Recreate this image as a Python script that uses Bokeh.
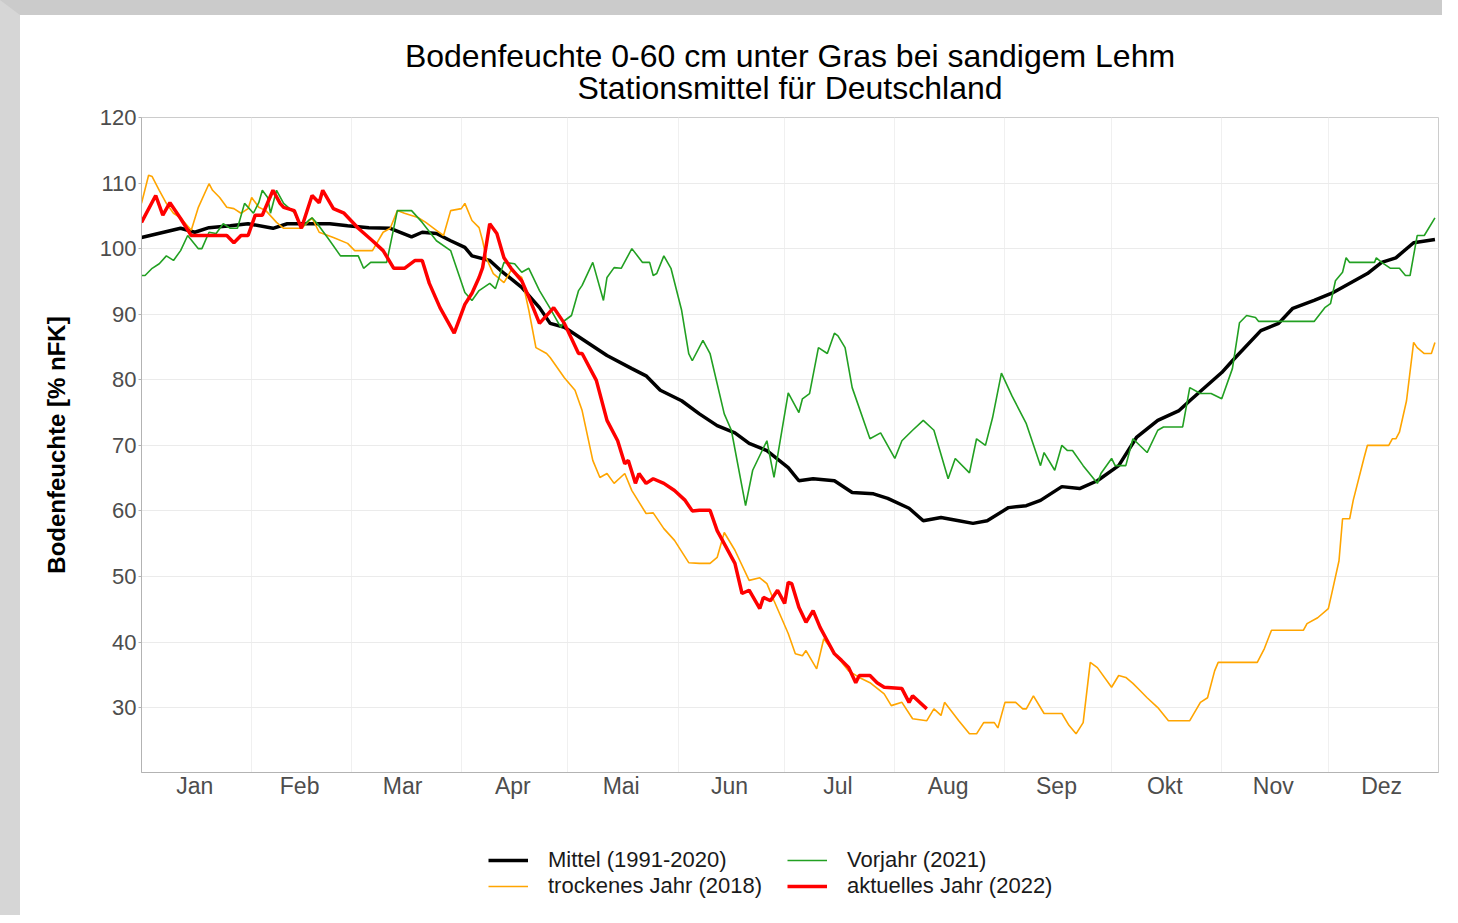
from bokeh.plotting import figure
from bokeh.models import Range1d, FixedTicker, Label, Legend, LegendItem
from bokeh.layouts import column
from bokeh.embed import file_html
from bokeh.resources import INLINE

title_line1 = "Bodenfeuchte 0-60 cm unter Gras bei sandigem Lehm"
title_line2 = "Stationsmittel für Deutschland"
y_label = "Bodenfeuchte [% nFK]"

months = ["Jan", "Feb", "Mar", "Apr", "Mai", "Jun", "Jul", "Aug", "Sep", "Okt", "Nov", "Dez"]
month_start = [1, 32, 60, 91, 121, 152, 182, 213, 244, 274, 305, 335]
month_mid = [16, 45.5, 74.5, 105.5, 136, 166.5, 197, 228, 258.5, 289, 319.5, 350]
y_ticks = [30, 40, 50, 60, 70, 80, 90, 100, 110, 120]

series_labels = ["Mittel (1991-2020)", "trockenes Jahr (2018)", "Vorjahr (2021)", "aktuelles Jahr (2022)"]

# Mittel (1991-2020)
mean_day = [1, 12, 16, 20, 26, 31, 38, 42, 48, 54, 59, 65, 71, 77, 80, 84, 88, 92, 94, 99,
            102, 108, 113, 116, 120, 127, 132, 139, 143, 147, 153, 158, 163, 168, 172, 177, 183, 186, 190, 196,
            201, 207, 211, 217, 221, 226, 231, 235, 239, 245, 250, 254, 260, 265, 270, 276, 281, 287, 293, 296,
            305, 308, 316, 321, 325, 331, 336, 346, 350, 354, 359, 365]
mean_val = [101.7, 103.1, 102.5, 103.2, 103.5, 103.8, 103.1, 103.8, 103.8, 103.8, 103.5, 103.2, 103.1, 101.8, 102.5,
            102.3, 101.2, 100.2, 98.9, 98.2, 96.7, 94.1, 91.0, 88.6, 88.0, 85.5, 83.7, 81.7, 80.6, 78.4,
            76.8, 74.8, 73.0, 71.9, 70.3, 69.2, 66.6, 64.6, 64.9, 64.6, 62.8, 62.6, 61.9, 60.4, 58.5,
            59.0, 58.5, 58.1, 58.5, 60.5, 60.8, 61.6, 63.7, 63.4, 64.6, 66.9, 71.2, 73.8, 75.3, 76.8,
            81.1, 82.9, 87.5, 88.6, 90.9, 92.1, 93.2, 96.2, 97.9, 98.6, 100.9, 101.4]

# trockenes Jahr (2018)
dry_day = [1, 3, 4, 6, 8, 10, 12, 15, 17, 20, 21, 23, 25, 27, 29, 31, 32, 34, 36, 39,
           41, 46, 49, 51, 55, 59, 61, 66, 69, 71, 73, 75, 79, 81, 84, 86, 88, 91, 92, 94,
           96, 97, 98, 100, 103, 105, 108, 110, 112, 115, 116, 120, 123, 125, 128, 130, 132, 134, 137, 139,
           143, 145, 148, 151, 155, 158, 161, 163, 165, 168, 172, 175, 177, 179, 183, 185, 187, 188, 191, 193,
           197, 200, 203, 206, 210, 212, 215, 218, 222, 224, 226, 227, 231, 234, 236, 238, 241, 242, 244, 247,
           249, 250, 252, 255, 260, 262, 264, 266, 268, 270, 274, 276, 278, 280, 282, 284, 287, 290, 296, 299,
           301, 303, 304, 315, 317, 319, 328, 329, 332, 335, 336, 338, 339, 341, 342, 345, 346, 352, 353, 354,
           355, 357, 359, 360, 362, 364, 365]
dry_val = [106.9, 111.2, 111.0, 108.9, 106.9, 105.4, 104.7, 102.8, 106.3, 109.9,
           108.9, 107.8, 106.3, 106.1, 105.4, 106.1, 107.8, 106.3, 105.8, 104.0,
           103.1, 103.1, 104.7, 102.5, 101.7, 100.8, 99.7, 99.7, 102.5, 103.1,
           105.8, 105.4, 104.7, 104.0, 102.8, 102.0, 105.8, 106.1, 106.9, 104.3,
           103.2, 101.2, 98.6, 96.2, 94.8, 96.7, 95.6, 90.6, 84.9, 84.0,
           83.4, 80.3, 78.4, 75.3, 67.7, 65.1, 65.7, 64.2, 65.7, 63.1,
           59.6, 59.7, 57.3, 55.5, 52.1, 52.0, 52.0, 52.9, 56.7, 54.0,
           49.4, 49.8, 48.9, 46.3, 41.3, 38.2, 37.9, 38.7, 35.9, 40.5,
           37.6, 35.6, 34.6, 33.8, 32.1, 30.3, 30.8, 28.3, 28.0, 29.8,
           28.8, 30.8, 28.0, 26.0, 26.0, 27.7, 27.7, 26.9, 30.8, 30.8,
           29.8, 29.8, 31.8, 29.1, 29.1, 27.3, 26.0, 27.7, 36.9, 36.1,
           33.1, 34.9, 34.6, 33.7, 32.6, 31.5, 30.0, 28.0, 28.0, 30.8,
           31.5, 35.6, 36.9, 36.9, 39.0, 41.8, 41.8, 42.8, 43.7, 45.1,
           47.5, 52.4, 58.8, 58.8, 61.6, 68.0, 70.0, 70.0, 71.0, 71.0,
           72.0, 76.8, 85.7, 84.9, 84.0, 84.0, 85.7]

# Vorjahr (2021)
prev_day = [1, 2, 4, 6, 8, 10, 12, 14, 17, 18, 20, 22, 24, 26, 28, 30, 31, 32.5, 34, 35,
            36.5, 37.3, 39, 41, 44, 46, 48, 49, 50.5, 54, 57, 62, 63.5, 65.5, 70, 73, 77, 80, 84, 88,
            92, 94, 96, 99, 100.6, 103, 106, 108, 110, 113, 116, 119, 120, 122, 124, 125, 128, 131, 132, 134,
            136, 139, 142, 144, 145, 146, 148, 150, 153, 155, 156, 159, 161, 165, 167, 171, 173, 177, 179, 183,
            186, 187, 189, 191.5, 194, 196, 197, 199, 201, 206, 209, 213, 215, 218, 221, 224, 228, 230, 234, 236,
            238.5, 240.5, 243, 246, 250, 254, 255, 258, 260, 261.6, 263, 266, 270, 271, 274, 275, 278, 280, 284, 287,
            288.6, 294, 296, 299, 302, 305, 308, 310, 312, 314.5, 315.4, 331, 334, 335.6, 337, 339, 340, 341, 348, 348.5,
            350, 352.5, 355, 356.7, 358, 360, 362, 365]
prev_val = [95.9, 95.9, 97.0, 97.7, 98.9, 98.2, 99.7, 102.0, 100.0, 100.0,
            102.5, 102.3, 103.8, 103.1, 103.1, 106.9, 106.3, 105.4, 107.0, 108.9,
            107.8, 105.4, 108.9, 106.9, 105.5, 103.2, 104.3, 104.7, 103.8, 101.2,
            98.9, 98.9, 97.0, 97.9, 97.9, 105.8, 105.8, 104.0, 101.2, 99.7,
            93.3, 92.1, 93.6, 94.7, 93.9, 97.9, 97.7, 96.4, 97.0, 93.6,
            90.9, 88.0, 89.0, 89.8, 93.6, 94.4, 97.9, 92.1, 95.6, 97.1,
            97.0, 100.0, 97.9, 97.9, 95.9, 96.2, 98.9, 97.0, 90.6, 84.0,
            82.9, 86.0, 84.0, 74.8, 72.3, 60.8, 66.2, 70.7, 65.1, 78.0,
            75.0, 77.1, 77.9, 84.9, 84.0, 87.1, 86.7, 84.9, 78.8, 71.0,
            71.9, 68.0, 70.7, 72.3, 73.8, 72.3, 64.9, 68.0, 65.8, 71.0,
            70.0, 74.2, 81.0, 77.5, 73.3, 66.9, 68.9, 66.2, 70.0, 69.2,
            69.2, 66.9, 64.2, 65.7, 68.0, 66.9, 66.9, 71.0, 68.9, 72.3,
            72.8, 72.8, 78.8, 77.9, 77.9, 77.1, 81.7, 88.7, 89.8, 89.5,
            88.9, 88.9, 91.0, 91.6, 95.1, 96.4, 98.6, 97.9, 97.9, 98.6,
            97.9, 97.0, 97.0, 95.9, 95.9, 102.0, 102.0, 104.7]

# aktuelles Jahr (2022)
cur_day = [1, 5, 7, 9, 12, 15, 20, 25, 27, 29, 31, 33, 35, 38, 40, 41, 44, 46, 49, 51,
           52, 55, 58, 62, 66, 69, 72, 75, 78, 80, 82, 85, 89, 92, 94, 96, 97, 99, 101, 103,
           105, 108, 110, 113, 117, 120, 124, 125, 129, 132, 135, 137, 138, 140, 141, 143, 145, 148, 151, 154,
           156, 158, 161, 163, 168, 170, 172, 175, 176, 178, 180, 182, 183, 184, 186, 188, 190, 192, 194, 196,
           198, 200, 202, 203, 206, 208, 210, 215, 217, 218, 222]
cur_val = [104.0, 108.1, 105.1, 107.0, 104.6, 102.0, 102.0, 102.0, 100.9, 102.0,
           102.0, 105.1, 105.1, 108.9, 106.9, 106.3, 105.8, 103.1, 108.1, 107.0,
           108.9, 106.1, 105.4, 103.1, 101.2, 99.7, 97.0, 97.0, 98.2, 98.2,
           94.7, 91.0, 87.1, 91.5, 93.2, 95.6, 97.1, 103.8, 102.3, 98.6,
           97.0, 95.1, 92.6, 88.6, 91.0, 88.6, 84.0, 84.0, 79.9, 73.8,
           70.7, 67.2, 67.7, 64.2, 65.7, 64.2, 64.9, 64.2, 63.1, 61.6,
           60.0, 60.1, 60.1, 57.0, 52.0, 47.4, 47.9, 45.1, 46.8, 46.3,
           47.9, 45.9, 49.1, 48.9, 45.3, 43.0, 44.8, 42.2, 40.2, 38.2,
           37.2, 36.1, 33.8, 34.9, 34.9, 33.8, 33.1, 32.9, 30.8, 31.8, 29.8]

FONT = "Liberation Sans"
COLORS = ["black", "#ffa500", "#22a022", "#ff0000"]
WIDTHS = [3.5, 1.6, 1.6, 3.5]
W = 1422


def strip(height):
    f = figure(width=W, height=height, x_range=Range1d(0, 1), y_range=Range1d(0, 1),
               output_backend="svg", toolbar_location=None, title=None,
               x_axis_location=None, y_axis_location=None,
               min_border_left=0, min_border_right=0, min_border_top=0, min_border_bottom=0)
    f.outline_line_color = None
    f.grid.visible = False
    f.background_fill_color = "white"
    f.border_fill_color = "white"
    return f


# title strip
pt = strip(90)
pt.add_layout(Label(x=648.5, y=50, x_units="screen", y_units="screen", text=title_line1,
                    text_align="center", text_baseline="middle", text_font=FONT,
                    text_font_size="32px", text_color="black"))
pt.add_layout(Label(x=648.5, y=18, x_units="screen", y_units="screen", text=title_line2,
                    text_align="center", text_baseline="middle", text_font=FONT,
                    text_font_size="32px", text_color="black"))

# main chart
p = figure(width=W, height=707, x_range=Range1d(1, 366), y_range=Range1d(20.1, 120),
           output_backend="svg", toolbar_location=None, title=None,
           min_border_left=121, min_border_right=4, min_border_top=12, min_border_bottom=40)
p.background_fill_color = "white"
p.border_fill_color = "white"
p.outline_line_color = "#cccccc"
p.outline_line_width = 1

p.line(mean_day, mean_val, line_color=COLORS[0], line_width=WIDTHS[0])
p.line(dry_day, dry_val, line_color=COLORS[1], line_width=WIDTHS[1])
p.line(prev_day, prev_val, line_color=COLORS[2], line_width=WIDTHS[2])
p.line(cur_day, cur_val, line_color=COLORS[3], line_width=WIDTHS[3])

p.xaxis.ticker = FixedTicker(ticks=month_mid)
p.xaxis.major_label_overrides = {m: lab for m, lab in zip(month_mid, months)}
p.xaxis.major_tick_out = 0
p.xaxis.major_tick_in = 0
p.xaxis.minor_tick_out = 0
p.xaxis.minor_tick_in = 0
p.xaxis.axis_line_color = "#b3b3b3"
p.xaxis.major_label_text_font = FONT
p.xaxis.major_label_text_font_size = "23px"
p.xaxis.major_label_text_color = "#4d4d4d"
p.xaxis.major_label_standoff = 0

p.yaxis.ticker = FixedTicker(ticks=y_ticks)
p.yaxis.major_tick_out = 3
p.yaxis.major_tick_in = 0
p.yaxis.minor_tick_out = 0
p.yaxis.minor_tick_in = 0
p.yaxis.major_tick_line_color = "#b3b3b3"
p.yaxis.axis_line_color = "#b3b3b3"
p.yaxis.major_label_text_font = FONT
p.yaxis.major_label_text_font_size = "22px"
p.yaxis.major_label_text_color = "#4d4d4d"
p.yaxis.major_label_standoff = 2
p.yaxis.axis_label = y_label
p.yaxis.axis_label_text_font = FONT
p.yaxis.axis_label_text_font_size = "24px"
p.yaxis.axis_label_text_font_style = "bold"
p.yaxis.axis_label_text_color = "black"
p.yaxis.axis_label_standoff = 27

p.xgrid.ticker = FixedTicker(ticks=month_start)
p.xgrid.grid_line_color = "#f0f0f0"
p.ygrid.grid_line_color = "#ebebeb"
p.ygrid.ticker = FixedTicker(ticks=y_ticks)

# legend strip
pl = strip(103)
legend_renderers = [pl.line(x=[float("nan")], y=[float("nan")], line_color=c, line_width=w)
                    for c, w in zip(COLORS, WIDTHS)]
legend = Legend(items=[LegendItem(label=lab, renderers=[r]) for lab, r in zip(series_labels, legend_renderers)],
                location=(347, 16), ncols=2, orientation="vertical",
                label_text_font=FONT, label_text_font_size="22px", label_text_color="#1a1a1a",
                glyph_width=40, glyph_height=20, label_height=20, label_width=239, label_standoff=20,
                spacing=0, padding=0, margin=0, border_line_alpha=0, background_fill_alpha=0)
pl.add_layout(legend, "center")

layout = column(pt, p, pl, styles={"border-top": "15px solid #cbcbcb",
                                   "border-left": "20px solid #d6d6d6"})
open("out.html", "w").write(file_html(layout, INLINE))
